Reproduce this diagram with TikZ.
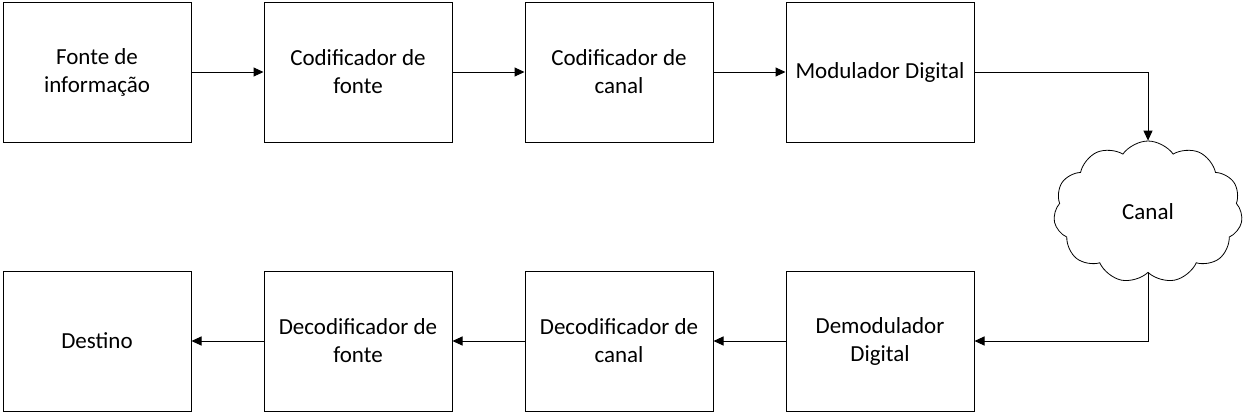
\documentclass[tikz,border=0pt]{standalone}
\usepackage{fontspec}
\setmainfont{Carlito}
\usetikzlibrary{arrows.meta}
\usetikzlibrary{shapes.symbols}

\begin{document}
\begin{tikzpicture}[x=1pt,y=-1pt]
        \newcommand{\figcomblockw}{188pt}
        \newcommand{\figcomblockh}{140pt}
        \newcommand{\figcomstep}{261}
        \newcommand{\figcomxa}{97}
        \newcommand{\figcomytop}{72}
        \newcommand{\figcomybot}{341}
        \tikzset{
            block/.style={draw, line width=1pt, minimum width=\figcomblockw, minimum height=\figcomblockh,
                inner sep=0pt, align=center, font=\fontsize{23}{28}\selectfont},
            nuvem/.style={draw, line width=0.8pt, cloud, cloud puffs=11, cloud puff arc=110, aspect=1.35,
                minimum width=189pt, minimum height=142pt, inner sep=0pt, font=\fontsize{23}{28}\selectfont},
            seta/.style={line width=1pt, -{Triangle[length=10pt,width=9pt]}}
        }
        \useasboundingbox (0,0) rectangle (1246,413);
        \node[block] (fonte) at (\figcomxa,\figcomytop) {Fonte de\\informação};
        \node[block] (codfonte) at (\figcomxa+\figcomstep,\figcomytop) {Codificador de\\fonte};
        \node[block] (codcanal) at (\figcomxa+2*\figcomstep,\figcomytop) {Codificador de\\canal};
        \node[block] (modulador) at (\figcomxa+3*\figcomstep,\figcomytop) {Modulador Digital};
        \node[nuvem] (canal) at (1148,212) {Canal};
        \node[block] (demodulador) at (\figcomxa+3*\figcomstep,\figcomybot) {Demodulador\\Digital};
        \node[block] (decodcanal) at (\figcomxa+2*\figcomstep,\figcomybot) {Decodificador de\\canal};
        \node[block] (decodfonte) at (\figcomxa+\figcomstep,\figcomybot) {Decodificador de\\fonte};
        \node[block] (destino) at (\figcomxa,\figcomybot) {Destino};
        \draw[seta] (fonte) -- (codfonte);
        \draw[seta] (codfonte) -- (codcanal);
        \draw[seta] (codcanal) -- (modulador);
        \draw[seta] (modulador.east) -| (canal.north);
        \draw[seta] (canal.south) |- (demodulador.east);
        \draw[seta] (demodulador) -- (decodcanal);
        \draw[seta] (decodcanal) -- (decodfonte);
        \draw[seta] (decodfonte) -- (destino);
    \end{tikzpicture}
\end{document}
